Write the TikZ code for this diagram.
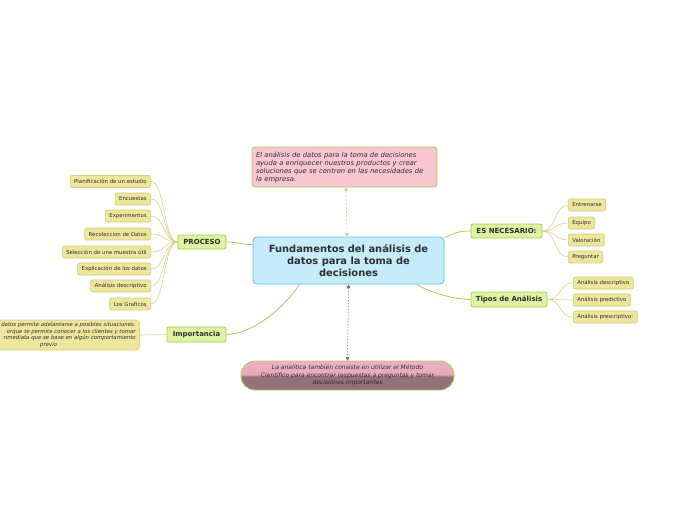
\documentclass[tikz,border=0pt]{standalone}
\usepackage{fontspec}
\setmainfont{DejaVu Sans}
\usetikzlibrary{arrows.meta,calc,backgrounds}
\definecolor{txt}{HTML}{2E2E2E}
\definecolor{cenF}{HTML}{C6EBFB}
\definecolor{cenB}{HTML}{62C4EE}
\definecolor{mainF}{HTML}{DDF3A4}
\definecolor{mainB}{HTML}{A5CC4E}
\definecolor{subF}{HTML}{EEE69D}
\definecolor{subB}{HTML}{D4CB74}
\definecolor{pinkF}{HTML}{F9C7D1}
\definecolor{linkG}{HTML}{A3C548}
\definecolor{subL}{HTML}{D8D18E}
\definecolor{dashG}{HTML}{B9D86E}
\definecolor{dashP}{HTML}{6E6280}
\definecolor{glossL}{HTML}{F3BCCA}
\definecolor{glossM}{HTML}{E7A9B9}
\definecolor{glossD}{HTML}{93707A}
\pgfdeclareverticalshading{gloss}{100bp}{color(0bp)=(glossD); color(48bp)=(glossD); color(52bp)=(glossM); color(100bp)=(glossL)}
\tikzset{
  cen/.style={draw=cenB, fill=cenF, line width=0.9pt, rounded corners=4pt, minimum width=191pt, minimum height=47pt, inner sep=0pt, align=center, text=txt, font=\fontsize{9.9}{12}\selectfont\bfseries},
  maintopic/.style={draw=mainB, fill=mainF, line width=0.8pt, rounded corners=2pt, inner sep=0pt, text=txt, font=\fontsize{7}{8}\selectfont\bfseries},
  subtopic/.style={draw=subB, fill=subF, line width=0.6pt, rounded corners=2pt, inner xsep=4pt, inner ysep=0pt, minimum height=12pt, text=txt, font=\fontsize{5.4}{6.2}\selectfont},
  note/.style={draw=mainB, fill=pinkF, line width=0.8pt, rounded corners=3pt, minimum width=185pt, minimum height=40pt, inner sep=0pt, text width=177pt, align=left, text=txt, font=\fontsize{6.8}{8}\selectfont\itshape},
  glossnote/.style={draw=mainB, shading=gloss, line width=0.8pt, rounded corners=14pt, minimum width=213pt, minimum height=29pt, inner sep=0pt, align=center, text=txt, font=\fontsize{6}{7.6}\selectfont\itshape},
  link/.style={draw=linkG, line width=0.7pt},
  sublink/.style={draw=subL, line width=0.6pt},
}
\begin{document}
\begin{tikzpicture}[x=1pt,y=-1pt]
\useasboundingbox (0,0) rectangle (696,520);
\clip (0,0) rectangle (696,520);
\node[cen] (center) at (348.5,260.5) {Fundamentos del análisis de\\datos para la toma de\\decisiones};
\node[note] (pink) at (344.5,167) {El análisis de datos para la toma de decisiones\\ayuda a enriquecer nuestros productos y crear\\soluciones que se centren en las necesidades de\\la empresa.};
\node[glossnote] (bottom) at (347.5,375.5) {La analítica también consiste en utilizar el Método\\Científico para encontrar respuestas a preguntas y tomar\\decisiones importantes};

\node[maintopic, minimum width=48pt, minimum height=14pt] (proceso) at (202,242) {PROCESO};
\node[maintopic, minimum width=59pt, minimum height=15pt] (imp) at (196.5,334.5) {Importancia};
\node[maintopic, minimum width=71pt, minimum height=14pt] (nec) at (506.5,231) {ES NECESARIO:};
\node[maintopic, minimum width=76pt, minimum height=15pt] (tipos) at (509,299.5) {Tipos de Análisis};

\node[subtopic, anchor=east] (plan) at (151,181.5) {Planificación de un estudio};
\node[subtopic, anchor=east] (enc) at (151,199) {Encuestas};
\node[subtopic, anchor=east] (expe) at (151,216) {Experimentos};
\node[subtopic, anchor=east] (rec) at (151,234) {Recoleccion de Datos};
\node[subtopic, anchor=east] (sel) at (151,252) {Selección de una muestra útil};
\node[subtopic, anchor=east] (expl) at (151,269) {Explicación de los datos};
\node[subtopic, anchor=east] (anal) at (151,286) {Análisis descriptivo};
\node[subtopic, anchor=east] (graf) at (151,304) {Los Graficos};

\node[subtopic, anchor=west] (entr) at (568,205) {Entrenarse};
\node[subtopic, anchor=west] (equi) at (568,223) {Equipo};
\node[subtopic, anchor=west] (valo) at (568,240) {Valoración};
\node[subtopic, anchor=west] (preg) at (568,257) {Preguntar};

\node[subtopic, anchor=west] (tdes) at (573,283) {Análisis descriptivo};
\node[subtopic, anchor=west] (tpre) at (573,300) {Análisis predictivo};
\node[subtopic, anchor=west] (tpres) at (573,317) {Análisis prescriptivo:};

\node[subtopic, anchor=east, minimum height=30pt, rounded corners=4pt, align=right, inner xsep=4pt, font=\fontsize{5.4}{6.8}\selectfont\itshape] (impd) at (140,335) {datos permite adelantarse a posibles situaciones.\\orque te permite conocer a los clientes y tomar\\nmediata que se base en algún comportamiento\\\makebox[0pt][c]{previo}\hspace*{87pt}};

\begin{scope}[on background layer]
\draw[link] (proceso.east) .. controls (238,242) and (244,245) .. ($(center.north west)+(0,8)$);
\draw[link] ($(center.south west)+(47,0)$) .. controls (282,310) and (252,334) .. (imp.east);
\draw[link] ($(center.north east)+(0,1)$) .. controls (455,233) and (458,231) .. (nec.west);
\draw[link] ($(center.south east)+(-28,0)$) .. controls (432,293) and (452,299) .. (tipos.west);

\draw[draw=dashG, line width=0.6pt, dash pattern=on 2pt off 2pt, {Triangle[width=3.5pt,length=3.5pt]}-{Triangle[width=3.5pt,length=3.5pt]}] ($(pink.south)+(1.5,0)$) -- ($(center.north)+(-1.5,0)$);
\draw[draw=dashP, line width=0.6pt, dash pattern=on 1.5pt off 1.5pt, {Triangle[width=3.5pt,length=3.5pt]}-{Triangle[width=3.5pt,length=3.5pt]}] (center.south) -- (bottom.north);

\foreach \n in {plan,enc,expe,rec,sel,expl,anal,graf}
  \draw[sublink] (proceso.west) .. controls +(-14,0) and +(14,0) .. (\n.east);
\foreach \n in {entr,equi,valo,preg}
  \draw[sublink] (nec.east) .. controls +(14,0) and +(-14,0) .. (\n.west);
\foreach \n in {tdes,tpre,tpres}
  \draw[sublink] (tipos.east) .. controls +(14,0) and +(-14,0) .. (\n.west);
\draw[sublink] (imp.west) -- (impd.east);
\end{scope}
\end{tikzpicture}
\end{document}
